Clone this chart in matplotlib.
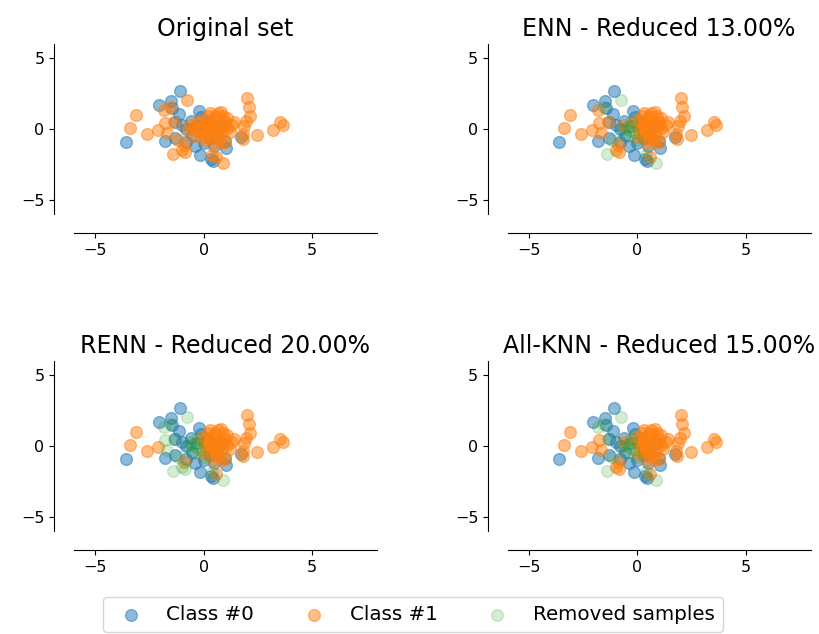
import numpy as np
import matplotlib
matplotlib.use('Agg')
import matplotlib.pyplot as plt

# points (2D projection of the sample set)
class0_x = [-3.6, -2.07, -1.5, -1.45, -1.1, -1.15, -0.2, -0.1, -1.0, -0.55,
            -1.8, -1.3, -0.8, -0.15, 0.35, 0.45, 0.0, 0.5, 1.05, 1.75,
            1.0, -0.6, -0.3, 0.2, 0.6, -1.3, -0.8, 0.3, 0.8, -0.4]
class0_y = [-0.95, 1.72, 2.0, 1.45, 2.65, 1.05, 1.25, 0.85, 0.3, -0.4,
            -0.85, -0.65, -0.9, -1.85, -2.1, -2.25, -1.0, -1.2, -1.35, -0.55,
            -0.85, 0.6, 0.2, 0.5, -0.4, 0.5, 0.0, -0.6, 0.2, -1.2]

class1_x = [-3.1, -3.4, -2.6, -2.1, -1.76, -1.68, -1.37, -1.19, -0.91, -1.42,
            -0.99, -0.85, -0.78, -1.55, -1.84, 0.88, 0.4, 0.56, 2.02, 2.08,
            2.14, 1.87, 1.82, 2.48, 3.2, 3.55, 3.65, 1.4, 1.95, 1.8,
            -0.63, -0.37, 0.02, 0.79, 0.65, 0.9, 0.2, 0.5, 1.0, 0.0,
            0.3, 0.6, 1.1, -0.2, 0.2, 0.5, 0.85, 1.2, 0.0, 0.4,
            0.7, 1.0, -0.5, 0.3, -0.1, 0.75, 0.4, 0.1, 0.95, -0.3,
            0.6, 0.25, 1.1, -0.7, 0.55, 0.8, 0.15, -0.45, 1.3, 0.45]
class1_y = [1.0, 0.05, -0.33, -0.07, 0.4, -0.3, 0.5, -0.77, -1.13, -1.76,
            -1.48, -1.6, 2.04, 1.55, 1.35, -2.4, -1.8, -2.0, 2.2, 1.55,
            0.92, 0.2, -0.7, -0.42, -0.1, 0.52, 0.28, 0.52, 0.6, -0.35,
            0.28, -0.07, -0.54, 1.22, 1.1, 0.9, 0.9, 0.7, 0.5, 0.3,
            0.3, 0.2, 0.1, -0.2, -0.1, -0.2, -0.3, -0.2, -0.8, -0.6,
            -0.7, -0.9, -0.5, 1.1, 0.6, 0.45, 0.0, -0.35, 0.2, 0.5,
            -0.45, 0.55, 0.75, 0.0, 0.95, -1.0, 0.15, 0.15, 0.3, -1.0]

# class #1 samples removed by each method (indices into class1 lists)
enn_removed = [12, 13, 9, 15, 43, 31, 52, 63, 67, 59, 7, 16, 48]
renn_removed = enn_removed + [4, 5, 6, 10, 11, 14, 30]
allknn_removed = enn_removed + [14, 6]

titles = ['Original set', 'ENN - Reduced 13.00%',
          'RENN - Reduced 20.00%', 'All-KNN - Reduced 15.00%']
removed_sets = [[], enn_removed, renn_removed, allknn_removed]

x0 = np.array(class0_x)
y0 = np.array(class0_y)
x1 = np.array(class1_x)
y1 = np.array(class1_y)

fig = plt.figure(figsize=(8.19, 6.34), dpi=100)
positions = [[0.09, 0.6625, 0.37, 0.268], [0.6197, 0.6625, 0.37, 0.268],
             [0.09, 0.1625, 0.37, 0.268], [0.6197, 0.1625, 0.37, 0.268]]

for pos, title, removed in zip(positions, titles, removed_sets):
    ax = fig.add_axes(pos)
    ax.spines['top'].set_visible(False)
    ax.spines['right'].set_visible(False)
    ax.spines['left'].set_position(('outward', 14))
    ax.spines['bottom'].set_position(('outward', 14))
    ax.set_xlim([-6, 8])
    ax.set_ylim([-6, 6])
    ax.set_xticks([-5, 0, 5])
    ax.set_yticks([-5, 0, 5])
    ax.tick_params(labelsize=11.5)

    keep = np.ones(len(x1), dtype=bool)
    keep[removed] = False
    c0 = ax.scatter(x0, y0, label='Class #0', alpha=0.5, s=72)
    c1 = ax.scatter(x1[keep], y1[keep], label='Class #1', alpha=0.5, s=72)
    c2 = ax.scatter(x1[~keep], y1[~keep], label='Removed samples',
                    alpha=0.2, s=72, color='C2')
    ax.set_title(title, fontsize=17)

fig.legend((c0, c1, c2), ('Class #0', 'Class #1', 'Removed samples'),
           loc='lower center', ncol=3, labelspacing=0., fontsize=14.3,
           bbox_to_anchor=(0.504, 0.003), borderaxespad=0.)

fig.savefig('out.png', dpi=100)
